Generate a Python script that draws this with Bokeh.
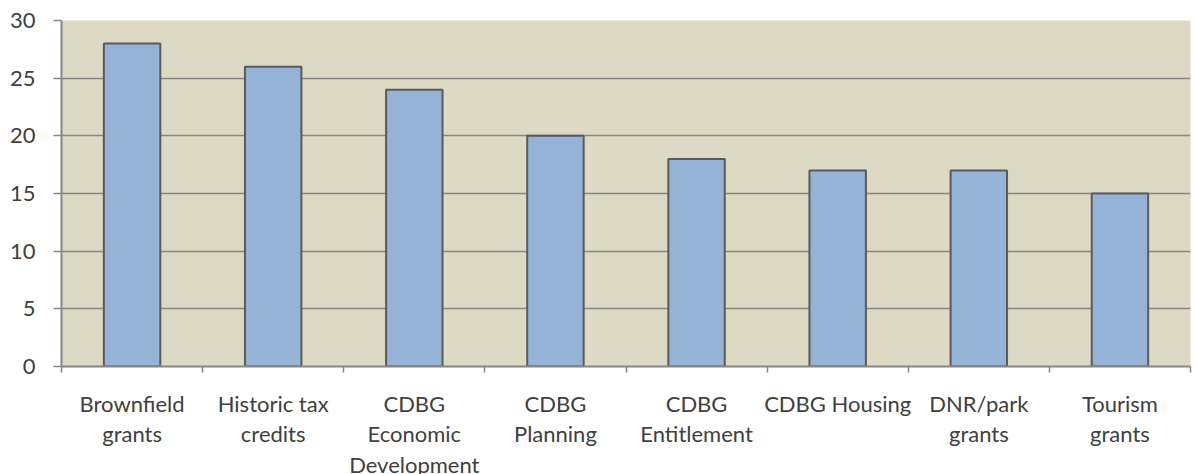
from bokeh.plotting import figure
from bokeh.models import FixedTicker, Range1d
from bokeh.embed import file_html
from bokeh.resources import INLINE

categories = ["Brownfield grants", "Historic tax credits", "CDBG Economic Development",
              "CDBG Planning", "CDBG Entitlement", "CDBG Housing", "DNR/park grants",
              "Tourism grants"]
tick_labels = ["Brownfield\ngrants", "Historic tax\ncredits", "CDBG\nEconomic\nDevelopment",
               "CDBG\nPlanning", "CDBG\nEntitlement", "CDBG Housing", "DNR/park\ngrants",
               "Tourism\ngrants"]
values = [28, 26, 24, 20, 18, 17, 17, 15]
y_ticks = [0, 5, 10, 15, 20, 25, 30]

n = len(categories)
centers = [i + 0.5 for i in range(n)]

p = figure(frame_width=1129, frame_height=346, min_border_left=61, min_border_top=20,
           min_border_right=7, min_border_bottom=0,
           output_backend="svg", toolbar_location=None,
           x_range=Range1d(0, n), y_range=Range1d(0, 30))

p.background_fill_color = "#DDD9C3"
p.border_fill_color = "white"
p.outline_line_color = None

p.vbar(x=centers, top=values, width=0.4, bottom=0,
       fill_color="#95B3D7", line_color="#5A5A5A", line_width=2)

font = "Lato"
txt_color = "#404040"

# x axis
p.xaxis.ticker = FixedTicker(ticks=centers, minor_ticks=list(range(n + 1)))
p.xaxis.major_label_overrides = {c: lab for c, lab in zip(centers, tick_labels)}
p.xaxis.major_tick_out = 0
p.xaxis.major_tick_in = 0
p.xaxis.minor_tick_out = 6
p.xaxis.minor_tick_in = 0
p.xaxis.minor_tick_line_color = "#868686"
p.xaxis.minor_tick_line_width = 1.5
p.xaxis.axis_line_color = "#868686"
p.xaxis.axis_line_width = 2
p.xaxis.major_label_text_font = font
p.xaxis.major_label_text_font_size = "22px"
p.xaxis.major_label_text_color = txt_color
p.xaxis.major_label_text_line_height = 1.13
p.xaxis.major_label_standoff = 17

# y axis
p.yaxis.ticker = FixedTicker(ticks=y_ticks)
p.yaxis.minor_tick_line_color = None
p.yaxis.major_tick_out = 8
p.yaxis.major_tick_in = 0
p.yaxis.major_tick_line_color = "#868686"
p.yaxis.major_tick_line_width = 1.5
p.yaxis.axis_line_color = "#868686"
p.yaxis.axis_line_width = 2
p.yaxis.major_label_text_font = font
p.yaxis.major_label_text_font_size = "22px"
p.yaxis.major_label_text_color = txt_color
p.yaxis.major_label_standoff = 18

p.xgrid.grid_line_color = None
p.ygrid.ticker = FixedTicker(ticks=y_ticks)
p.ygrid.grid_line_color = "#868686"
p.ygrid.grid_line_width = 1.5

open("out.html", "w").write(file_html(p, INLINE))
